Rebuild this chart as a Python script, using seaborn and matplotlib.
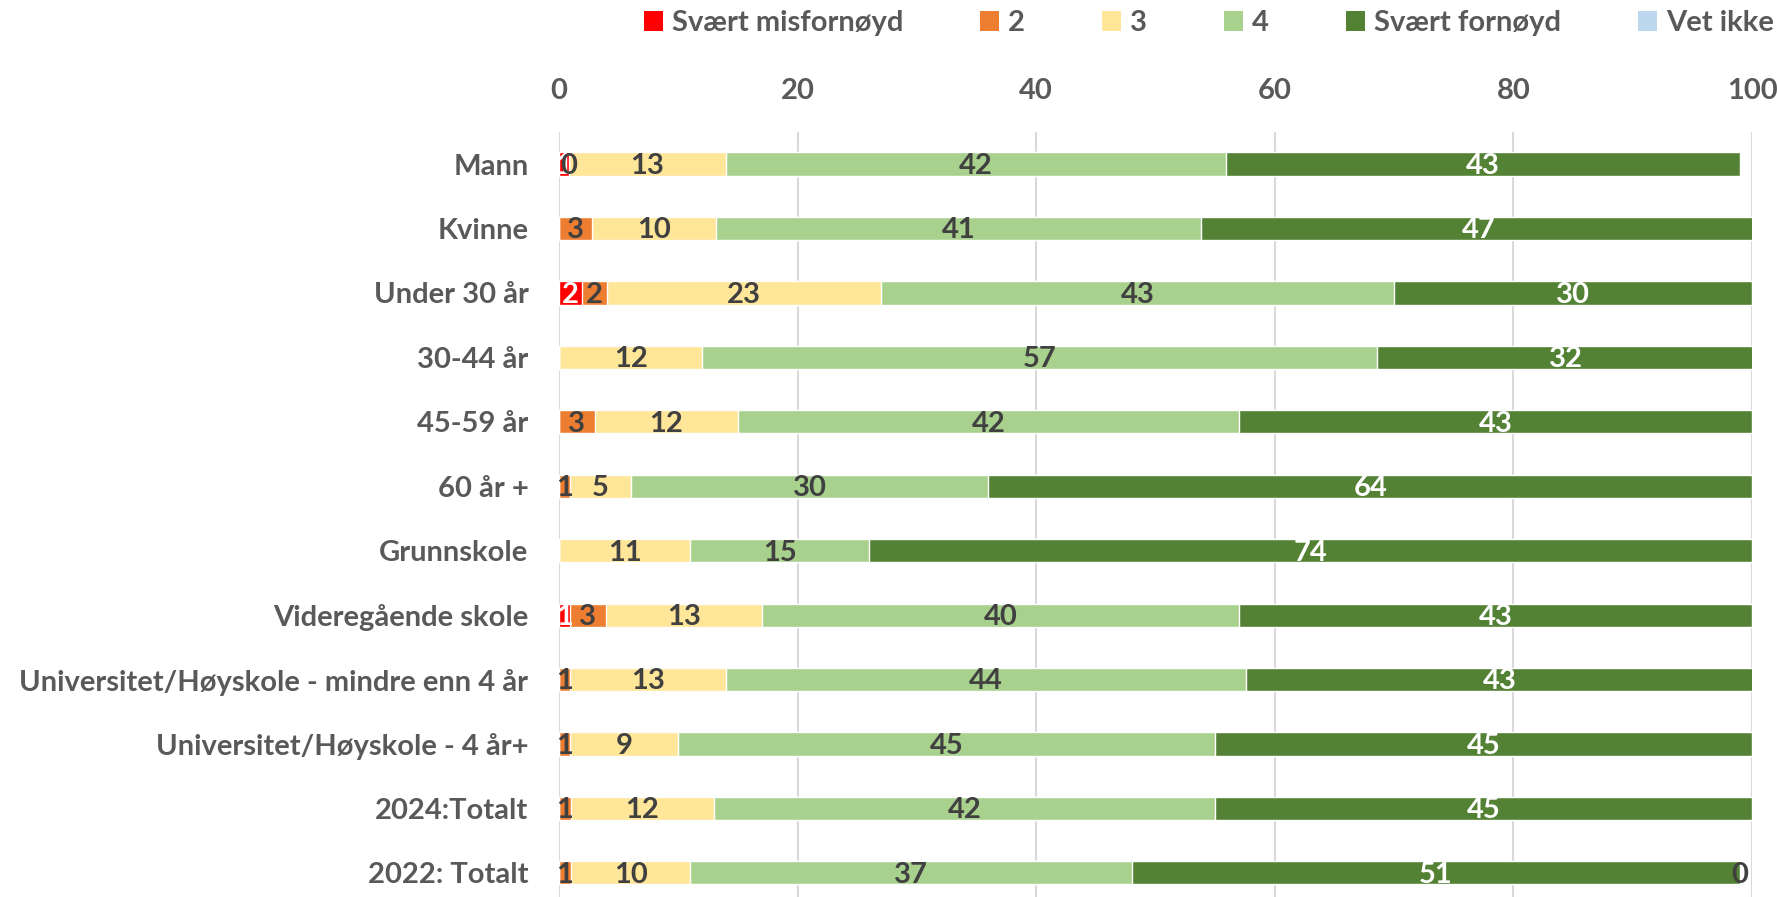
"""stacked satisfaction bars (Svært misfornøyd .. Vet ikke)"""

import numpy as np
import pandas as pd
import matplotlib.pyplot as plt
from matplotlib.patches import Patch
import seaborn as sns

categories = ["Mann", "Kvinne", "Under 30 år", "30-44 år", "45-59 år", "60 år +",
              "Grunnskole", "Videregående skole",
              "Universitet/Høyskole - mindre enn 4 år", "Universitet/Høyskole - 4 år+",
              "2024:Totalt", "2022: Totalt"]

nan = np.nan
svaert_misfornoyd = [0.8, nan, 1.9, nan, nan, nan, nan, 0.9, nan, nan, nan, nan]
score_2 = [0.0, 2.8, 2.1, nan, 3.0, 0.9, nan, 3.0, 0.9, 0.9, 1.0, 1.0]
score_3 = [13.2, 10.4, 23.0, 12.0, 12.0, 5.1, 11.0, 13.1, 13.1, 9.1, 12.0, 10.0]
score_4 = [41.9, 40.6, 43.0, 56.6, 42.0, 30.0, 15.0, 40.0, 43.6, 45.0, 42.0, 37.0]
svaert_fornoyd = [43.1, 46.6, 30.0, 31.6, 43.0, 64.0, 74.0, 43.0, 42.6, 45.0, 45.0, 51.0]
vet_ikke = [nan] * 11 + [0.0]

series_names = ["Svært misfornøyd", "2", "3", "4", "Svært fornøyd", "Vet ikke"]
series_values = [svaert_misfornoyd, score_2, score_3, score_4, svaert_fornoyd, vet_ikke]
colours = ["#FF0000", "#ED7D31", "#FFE699", "#A9D18E", "#548235", "#BDD7EE"]
label_colours = ["white", "#404040", "#404040", "#404040", "white", "#404040"]

sns.set_theme(style="white")
plt.rcParams["font.family"] = ["Lato", "DejaVu Sans"]
plt.rcParams["font.weight"] = "bold"

FS = 21

df = pd.DataFrame({"category": categories})
for name, vals in zip(series_names, series_values):
    df[name] = vals
widths = df[series_names].fillna(0)
ends = widths.cumsum(axis=1)
starts = ends - widths

fig = plt.figure(figsize=(17.77, 8.97), dpi=100)
ax = fig.add_axes([559 / 1777, -0.009, (1752 - 559) / 1777, 0.862])

# overlay cumulative bars, longest first, so they look stacked
for i in reversed(range(len(series_names))):
    if i == 5:
        continue
    sns.barplot(x=ends[series_names[i]], y=df["category"], orient="h", color=colours[i],
                width=0.36, saturation=1, ax=ax)

for i, name in enumerate(series_names):
    for j, v in enumerate(df[name]):
        if np.isnan(v):
            continue
        xc = starts.loc[j, name] + widths.loc[j, name] / 2
        ax.text(xc, j + 0.03, f"{v:.0f}", ha="center", va="center", fontsize=FS,
                fontweight="bold", color=label_colours[i])

ax.set_xlim(0, 100)
ax.set_ylim(11.5, -0.5)
ax.set_xticks(range(0, 101, 20))
ax.xaxis.tick_top()
ax.xaxis.grid(True, color="#D9D9D9", linewidth=1.5)
ax.set_axisbelow(True)
ax.tick_params(axis="x", length=0, pad=20, labelsize=FS, labelcolor="#595959")
ax.tick_params(axis="y", length=0, pad=22, labelsize=FS, labelcolor="#595959")
for lbl in ax.get_xticklabels() + ax.get_yticklabels():
    lbl.set_fontweight("bold")
ax.set_xlabel("")
ax.set_ylabel("")
sns.despine(ax=ax, left=True, bottom=True, top=True, right=True)

handles = [Patch(facecolor=c, edgecolor="none") for c in colours]
fig.legend(handles, series_names, loc="upper right", bbox_to_anchor=(1.013, 1.018), ncol=6,
           frameon=False, handlelength=0.65, handleheight=0.65, handletextpad=0.3,
           columnspacing=2.65, labelcolor="#595959", prop={"weight": "bold", "size": FS})

plt.savefig("out.png", dpi=100)
plt.close()
